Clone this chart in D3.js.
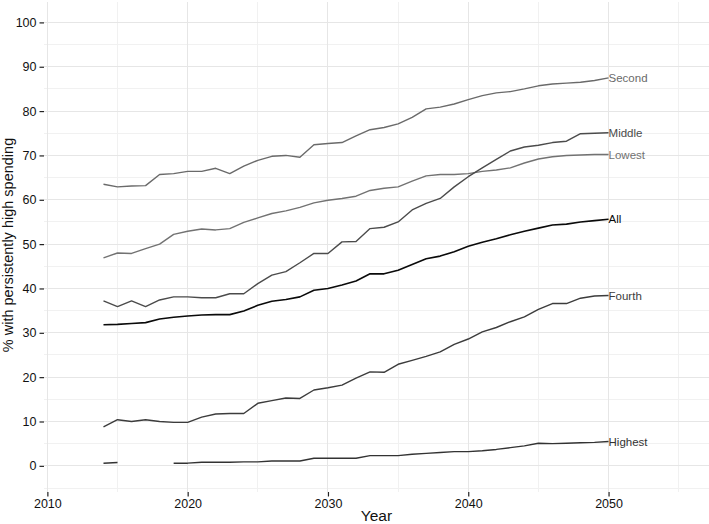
<!DOCTYPE html>
<html>
<head>
<meta charset="utf-8">
<script src="https://cdn.jsdelivr.net/npm/d3@7"></script>
<style>
  html, body { margin: 0; padding: 0; background: #fff; }
  #chart { width: 709px; height: 524px; }
  text { font-family: "Liberation Sans", Arial, sans-serif; }
</style>
</head>
<body>
<div id="chart"></div>
<script>
const years = d3.range(2014, 2051);

const allValues     = [31.8, 31.9, 32.1, 32.3, 33.1, 33.5, 33.8, 34.0, 34.1, 34.1, 34.9, 36.2, 37.1, 37.5, 38.1, 39.6, 40.0, 40.8, 41.7, 43.3, 43.3, 44.1, 45.4, 46.7, 47.3, 48.3, 49.5, 50.4, 51.2, 52.1, 52.9, 53.6, 54.3, 54.5, 55.0, 55.3, 55.6];
const lowestValues  = [46.9, 48.0, 47.9, 49.0, 50.0, 52.2, 52.9, 53.4, 53.2, 53.5, 54.9, 55.9, 56.9, 57.5, 58.3, 59.3, 59.9, 60.3, 60.8, 62.1, 62.6, 62.9, 64.2, 65.4, 65.7, 65.7, 65.9, 66.4, 66.7, 67.2, 68.3, 69.2, 69.7, 70.0, 70.1, 70.2, 70.2];
const secondValues  = [63.5, 62.9, 63.1, 63.2, 65.7, 65.9, 66.4, 66.4, 67.1, 65.9, 67.6, 68.9, 69.8, 70.0, 69.6, 72.4, 72.7, 72.9, 74.4, 75.8, 76.3, 77.1, 78.6, 80.5, 80.9, 81.6, 82.6, 83.5, 84.1, 84.4, 85.0, 85.7, 86.1, 86.3, 86.5, 86.9, 87.5];
const middleValues  = [37.2, 35.9, 37.2, 35.9, 37.4, 38.1, 38.1, 37.9, 37.9, 38.8, 38.8, 41.1, 43.0, 43.8, 45.8, 47.9, 47.9, 50.5, 50.6, 53.5, 53.8, 55.0, 57.7, 59.2, 60.3, 62.9, 65.2, 67.2, 69.1, 71.0, 71.9, 72.3, 72.9, 73.2, 74.9, 75.0, 75.1];
const fourthValues  = [8.8, 10.4, 10.0, 10.4, 10.0, 9.8, 9.8, 11.0, 11.7, 11.8, 11.8, 14.1, 14.7, 15.3, 15.2, 17.1, 17.6, 18.2, 19.8, 21.2, 21.1, 22.9, 23.8, 24.7, 25.7, 27.4, 28.6, 30.2, 31.2, 32.5, 33.6, 35.3, 36.6, 36.6, 37.8, 38.3, 38.4];
const highestValues = [0.6, 0.75, null, null, null, 0.6, 0.6, 0.8, 0.8, 0.8, 0.9, 0.9, 1.1, 1.1, 1.1, 1.7, 1.7, 1.7, 1.7, 2.3, 2.3, 2.3, 2.6, 2.8, 3.0, 3.2, 3.2, 3.4, 3.7, 4.1, 4.5, 5.1, 5.0, 5.1, 5.2, 5.3, 5.5];

const seriesNames  = ["Second", "Lowest", "Middle", "Fourth", "Highest", "All"];
const seriesValues = [secondValues, lowestValues, middleValues, fourthValues, highestValues, allValues];
const seriesColours = ["#6a6a6a", "#727272", "#4b4b4b", "#3c3c3c", "#333333", "#0a0a0a"];

const xTickValues = [2010, 2020, 2030, 2040, 2050];
const xMinorValues = [2015, 2025, 2035, 2045, 2055];
const yTickValues = d3.range(0, 101, 10);
const yMinorValues = d3.range(-5, 100, 10);

const panel = {left: 44, right: 709, top: 2, bottom: 492};

class SpendingChart
{
  #svg;
  #xScalor;
  #yScalor;

  constructor(element)
  {
    this.#svg = d3.select(element)
      .append("svg")
      .attr("width", 709)
      .attr("height", 524);

    this.#xScalor = d3.scaleLinear().domain([2009.76, 2057.16]).range([panel.left, panel.right]);
    this.#yScalor = d3.scaleLinear().domain([-5.9, 104.6]).range([panel.bottom, panel.top]);

    this.#addGrid();
    this.#addAxes();
    this.#plotData();
  }

  #addGrid()
  {
    const grid = this.#svg.append("g").attr("shape-rendering", "crispEdges");

    grid.selectAll(".hminor").data(yMinorValues).enter()
      .append("line")
        .attr("x1", panel.left).attr("x2", panel.right)
        .attr("y1", d => this.#yScalor(d)).attr("y2", d => this.#yScalor(d))
        .attr("stroke", "#f1f1f1");

    grid.selectAll(".vminor").data(xMinorValues).enter()
      .append("line")
        .attr("y1", panel.top).attr("y2", panel.bottom)
        .attr("x1", d => this.#xScalor(d)).attr("x2", d => this.#xScalor(d))
        .attr("stroke", "#f1f1f1");

    grid.selectAll(".hmajor").data(yTickValues).enter()
      .append("line")
        .attr("x1", panel.left).attr("x2", panel.right)
        .attr("y1", d => this.#yScalor(d)).attr("y2", d => this.#yScalor(d))
        .attr("stroke", "#e6e6e6");

    grid.selectAll(".vmajor").data(xTickValues).enter()
      .append("line")
        .attr("y1", panel.top).attr("y2", panel.bottom)
        .attr("x1", d => this.#xScalor(d)).attr("x2", d => this.#xScalor(d))
        .attr("stroke", "#e6e6e6");
  }

  #addAxes()
  {
    const xAxis = d3.axisBottom(this.#xScalor)
      .tickValues(xTickValues)
      .tickFormat(d3.format("d"))
      .tickSize(4.5)
      .tickPadding(3);

    const yAxis = d3.axisLeft(this.#yScalor)
      .tickValues(yTickValues)
      .tickSize(4.5)
      .tickPadding(3);

    const xg = this.#svg.append("g")
      .attr("transform", `translate(0,${panel.bottom})`)
      .call(xAxis);

    const yg = this.#svg.append("g")
      .attr("transform", `translate(${panel.left},0)`)
      .call(yAxis);

    for (const g of [xg, yg])
    {
      g.select(".domain").remove();
      g.selectAll(".tick line").attr("stroke", "#222").attr("stroke-width", 1.2);
      g.selectAll(".tick text")
        .attr("fill", "#111")
        .style("font-size", "12.5px")
        .style("font-family", "'Liberation Sans', Arial, sans-serif");
    }

    this.#svg.append("text")
      .attr("x", (panel.left + panel.right) / 2)
      .attr("y", 521)
      .attr("text-anchor", "middle")
      .attr("fill", "#111")
      .style("font-size", "15.5px")
      .text("Year");

    this.#svg.append("text")
      .attr("transform", `translate(13,${(panel.top + panel.bottom) / 2 - 2}) rotate(-90)`)
      .attr("text-anchor", "middle")
      .attr("fill", "#111")
      .style("font-size", "14.5px")
      .text("% with persistently high spending");
  }

  #lineGenerator()
  {
    return d3.line()
      .defined(d => d.value != null)
      .x(d => this.#xScalor(d.year))
      .y(d => this.#yScalor(d.value));
  }

  #plotData()
  {
    const datasets = seriesNames.map((name, i) => ({
      name: name,
      colour: seriesColours[i],
      data: years.map((year, j) => ({year: year, value: seriesValues[i][j]}))
    }));

    const line = this.#lineGenerator();
    const plottingArea = this.#svg.append("g").attr("id", "plottingArea");

    plottingArea.selectAll("path")
      .data(datasets, d => d.name)
      .enter()
      .append("path")
        .attr("fill", "none")
        .attr("stroke", d => d.colour)
        .attr("stroke-width", d => d.name == "All" ? 1.6 : 1.4)
        .attr("stroke-linejoin", "round")
        .attr("d", d => line(d.data));

    plottingArea.selectAll("text")
      .data(datasets, d => d.name)
      .enter()
      .append("text")
        .attr("x", d => this.#xScalor(d.data[d.data.length - 1].year))
        .attr("y", d => this.#yScalor(d.data[d.data.length - 1].value))
        .attr("dy", "0.36em")
        .attr("fill", d => d.colour)
        .style("font-size", "11.5px")
        .text(d => d.name);
  }
}

new SpendingChart(document.getElementById("chart"));
</script>
</body>
</html>
